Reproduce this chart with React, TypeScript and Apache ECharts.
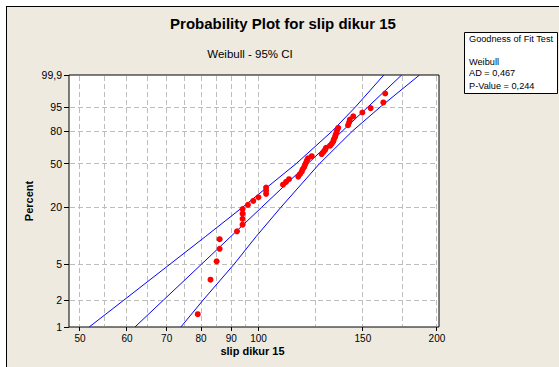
import React, { useEffect, useRef } from "react";
import * as echarts from "echarts";

// ---- data ----
const xGridValues = [50, 55, 60, 65, 70, 75, 80, 85, 90, 95, 100, 125, 150, 175, 200];
const xTickLabels = [50, 60, 70, 80, 90, 100, 150, 200];
const yTickPercents = [1, 2, 5, 20, 50, 80, 95, 99.9];
const yTickLabels = ["1", "2", "5", "20", "50", "80", "95", "99,9"];

const slipValues = [
  79, 83, 85, 86, 86, 92, 94, 94, 94, 94,
  96, 98, 100, 103, 103, 103, 110, 111.3, 112.6, 116.7,
  117.5, 118.3, 118.7, 119.4, 119.8, 120.3, 120.7, 121.2, 123, 127.8,
  128.7, 129.5, 130, 132.1, 133, 133.7, 134, 134.6, 134.9, 135.4,
  135.7, 136.3, 141.6, 142.2, 142.6, 144.5, 149.7, 154.6, 162.4, 163.6,
];
const percentValues = [
  1.39, 3.37, 5.36, 7.34, 9.33, 11.31, 13.29, 15.28, 17.26, 19.25,
  21.23, 23.21, 25.2, 27.18, 29.17, 31.15, 33.13, 35.12, 37.1, 39.09,
  41.07, 43.06, 45.04, 47.02, 49.01, 50.99, 52.98, 54.96, 56.94, 58.93,
  60.91, 62.9, 64.88, 66.87, 68.85, 70.83, 72.82, 74.8, 76.79, 78.77,
  80.75, 82.74, 84.72, 86.71, 88.69, 90.67, 92.66, 94.64, 96.63, 98.61,
];

const bandPercents = [1, 2, 5, 10, 20, 50, 80, 95, 99.9];
const fitLine = [61.9, 69.15, 80.18, 89.87, 101.2, 121.1, 138.4, 152.8, 174.4];
const upperBand = [51.82, 59.3, 70.94, 81.47, 93.94, 115.74, 133.1, 145.6, 162.7];
const lowerBand = [73.98, 80.65, 90.98, 99.15, 109.05, 126.74, 143.96, 160.3, 186.9];

const gofLines = ["Goodness of Fit Test", "", "Weibull", "AD = 0,467", "P-Value = 0,244"];

// ---- scales ----
const tx = (v: number) => Math.log(v);
const ty = (p: number) => Math.log(-Math.log(1 - p / 100));
const X_MIN = tx(47.91);
const X_MAX = tx(201.6);
const Y_MIN = ty(1);
const Y_MAX = ty(99.9);

const FONT = '"Liberation Sans", Arial, sans-serif';
const snap = (v: number) => Math.round(v - 0.5) + 0.5;

export default function App() {
  const ref = useRef<HTMLDivElement>(null);

  useEffect(() => {
    if (!ref.current) return;
    const chart = echarts.init(ref.current, undefined, { renderer: "svg" });

    const gridStyle = { stroke: "#bdbdbd", lineWidth: 1, lineDash: [5, 3] };

    const option: any = {
      animation: false,
      backgroundColor: "transparent",
      grid: {
        left: 69,
        top: 75,
        width: 370,
        height: 252,
        show: true,
        backgroundColor: "#ffffff",
        borderColor: "#000000",
        borderWidth: 1,
        containLabel: false,
        outerBoundsMode: "none",
      },
      xAxis: {
        type: "value",
        min: X_MIN,
        max: X_MAX,
        axisLine: { show: false },
        axisTick: { show: false },
        axisLabel: { show: false },
        splitLine: { show: false },
      },
      yAxis: {
        type: "value",
        min: Y_MIN,
        max: Y_MAX,
        axisLine: { show: false },
        axisTick: { show: false },
        axisLabel: { show: false },
        splitLine: { show: false },
      },
      graphic: [
        {
          type: "text",
          x: 283,
          y: 23,
          style: {
            text: "Probability Plot for slip dikur 15",
            font: `bold 15px ${FONT}`,
            fill: "#000",
            align: "center",
            verticalAlign: "middle",
            textAlign: "center",
            textVerticalAlign: "middle",
          },
        },
        {
          type: "text",
          x: 250,
          y: 53.5,
          style: {
            text: "Weibull - 95% CI",
            font: `11.5px ${FONT}`,
            fill: "#000",
            align: "center",
            verticalAlign: "middle",
            textAlign: "center",
            textVerticalAlign: "middle",
          },
        },
        {
          type: "text",
          x: 252.5,
          y: 351,
          style: {
            text: "slip dikur 15",
            font: `bold 11px ${FONT}`,
            fill: "#000",
            align: "center",
            verticalAlign: "middle",
            textAlign: "center",
            textVerticalAlign: "middle",
          },
        },
        {
          type: "text",
          x: 28.5,
          y: 201,
          rotation: Math.PI / 2,
          style: {
            text: "Percent",
            font: `bold 11px ${FONT}`,
            fill: "#000",
            align: "center",
            verticalAlign: "middle",
            textAlign: "center",
            textVerticalAlign: "middle",
          },
        },
        {
          type: "rect",
          shape: { x: 464.5, y: 32.5, width: 93, height: 61 },
          style: { fill: "#ffffff", stroke: "#000000", lineWidth: 1 },
        },
        ...gofLines.map((t, i) => ({
          type: "text",
          x: 469,
          y: 38.7 + [0, 11.5, 23, 34, 47][i],
          style: {
            text: t,
            font: `9.2px ${FONT}`,
            fill: "#000",
            align: "left",
            verticalAlign: "middle",
            textAlign: "left",
            textVerticalAlign: "middle",
          },
        })),
      ],
      series: [
        {
          type: "custom",
          clip: false,
          z: 1,
          silent: true,
          data: xGridValues.map((v) => [tx(v), Y_MIN]),
          renderItem: (params: any, api: any) => {
            const v = xGridValues[params.dataIndex];
            const bot = api.coord([tx(v), Y_MIN]);
            const top = api.coord([tx(v), Y_MAX]);
            const x = snap(bot[0]);
            const children: any[] = [
              {
                type: "line",
                shape: { x1: x, y1: top[1] + 1, x2: x, y2: bot[1] - 1 },
                style: gridStyle,
              },
            ];
            if (xTickLabels.indexOf(v) >= 0) {
              children.push({
                type: "line",
                shape: { x1: x, y1: bot[1], x2: x, y2: bot[1] + 4 },
                style: { stroke: "#000", lineWidth: 1 },
              });
              children.push({
                type: "text",
                x: bot[0],
                y: bot[1] + 11.5,
                style: {
                  text: String(v),
                  font: `10px ${FONT}`,
                  fill: "#000",
                  align: "center",
                  verticalAlign: "middle",
                  textAlign: "center",
                  textVerticalAlign: "middle",
                },
              });
            }
            return { type: "group", children };
          },
        },
        {
          type: "custom",
          clip: false,
          z: 1,
          silent: true,
          data: yTickPercents.map((p) => [X_MIN, ty(p)]),
          renderItem: (params: any, api: any) => {
            const i = params.dataIndex;
            const p = yTickPercents[i];
            const left = api.coord([X_MIN, ty(p)]);
            const right = api.coord([X_MAX, ty(p)]);
            const y = snap(left[1]);
            const children: any[] = [];
            if (p > 1 && p < 99.9) {
              children.push({
                type: "line",
                shape: { x1: left[0] + 1, y1: y, x2: right[0] - 1, y2: y },
                style: gridStyle,
              });
            }
            children.push({
              type: "line",
              shape: { x1: left[0] - 5, y1: y, x2: left[0], y2: y },
              style: { stroke: "#000", lineWidth: 1 },
            });
            children.push({
              type: "text",
              x: left[0] - 7,
              y: left[1],
              style: {
                text: yTickLabels[i],
                font: `10.5px ${FONT}`,
                fill: "#000",
                align: "right",
                verticalAlign: "middle",
                textAlign: "right",
                textVerticalAlign: "middle",
              },
            });
            return { type: "group", children };
          },
        },
        ...[upperBand, fitLine, lowerBand].map((arr) => ({
          type: "line",
          z: 2,
          silent: true,
          showSymbol: false,
          symbol: "none",
          data: arr.map((v, i) => [tx(v), ty(bandPercents[i])]),
          lineStyle: { color: "#0000ff", width: 1, opacity: 1 },
        })),
        {
          type: "scatter",
          z: 3,
          silent: true,
          symbol: "circle",
          symbolSize: 6,
          itemStyle: { color: "#ff0000", opacity: 1 },
          data: slipValues.map((v, i) => [tx(v), ty(percentValues[i])]),
        },
      ],
    };

    chart.setOption(option);
    return () => chart.dispose();
  }, []);

  return (
    <div
      style={{
        position: "absolute",
        left: 0,
        top: 0,
        width: 559,
        height: 367,
        background: "#ffffff",
        overflow: "hidden",
      }}
    >
      <div
        style={{
          position: "absolute",
          left: 6,
          top: 6,
          width: 600,
          height: 400,
          background: "#eeeae0",
          borderLeft: "1px solid #000",
          borderTop: "1px solid #000",
        }}
      />
      <div ref={ref} style={{ position: "absolute", left: 0, top: 0, width: 559, height: 367 }} />
    </div>
  );
}
